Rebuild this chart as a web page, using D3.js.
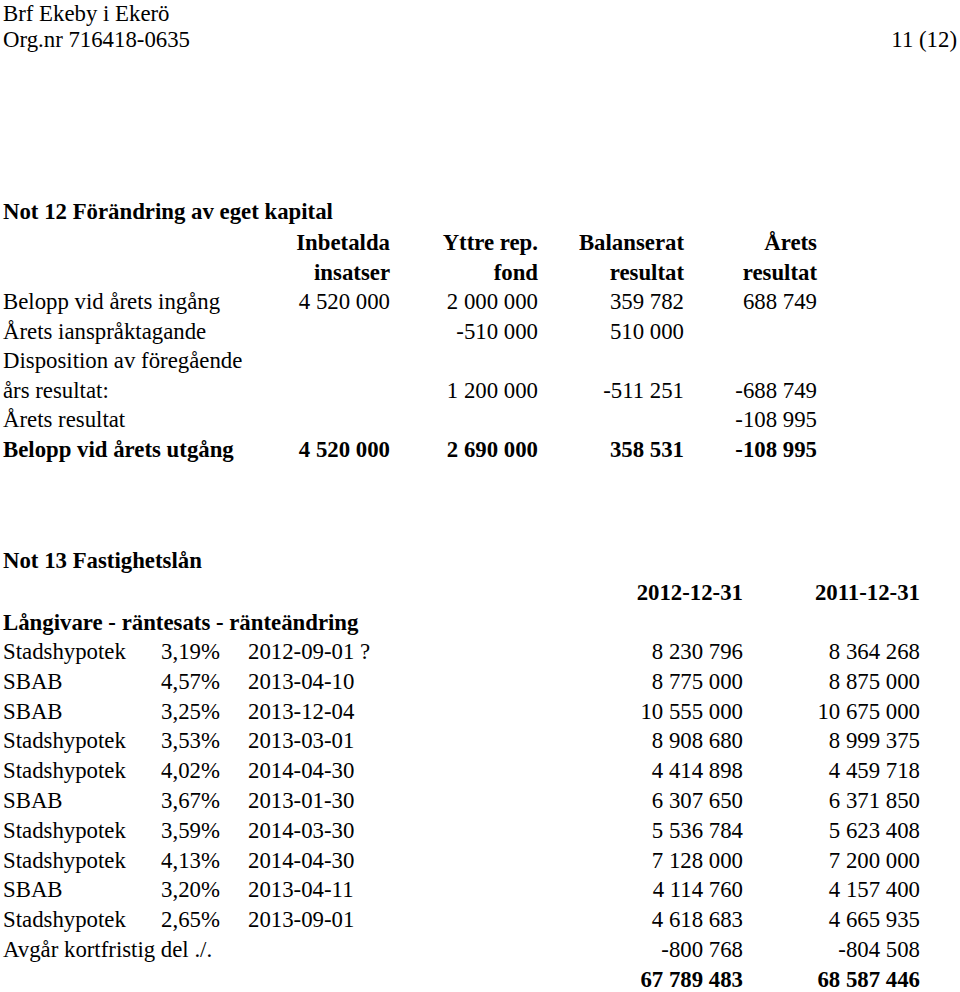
<!DOCTYPE html>
<html>
<head>
<meta charset="utf-8">
<script src="https://cdn.jsdelivr.net/npm/d3@7"></script>
<style>
    body { margin: 0; background: #fff; }
    svg text { font-family: "Liberation Serif", "Times New Roman", serif; fill: #000; }
</style>
</head>
<body>
<div id="page"></div>
<script>
/* Page header */
var orgName     = "Brf Ekeby i Ekerö";
var orgNumber   = "Org.nr 716418-0635";
var pageNumber  = "11 (12)";

/* Not 12 - Förändring av eget kapital */
var note12Title     = "Not 12 Förändring av eget kapital";
var equityHeadTop   = ["Inbetalda", "Yttre rep.", "Balanserat", "Årets"];
var equityHeadBot   = ["insatser", "fond", "resultat", "resultat"];
var equityLabels    = ["Belopp vid årets ingång", "Årets ianspråktagande", "Disposition av föregående", "års resultat:", "Årets resultat", "Belopp vid årets utgång"];
var inbetalda       = [4520000, null, null, null, null, 4520000];
var yttreRep        = [2000000, -510000, null, 1200000, null, 2690000];
var balanserat      = [359782, 510000, null, -511251, null, 358531];
var aretsResultat   = [688749, null, null, -688749, -108995, -108995];

/* Not 13 - Fastighetslån */
var note13Title     = "Not 13 Fastighetslån";
var loanHeading     = "Långivare - räntesats - ränteändring";
var loanPeriods     = ["2012-12-31", "2011-12-31"];
var lenders         = ["Stadshypotek", "SBAB", "SBAB", "Stadshypotek", "Stadshypotek", "SBAB", "Stadshypotek", "Stadshypotek", "SBAB", "Stadshypotek"];
var rates           = [3.19, 4.57, 3.25, 3.53, 4.02, 3.67, 3.59, 4.13, 3.20, 2.65];
var changeDates     = ["2012-09-01 ?", "2013-04-10", "2013-12-04", "2013-03-01", "2014-04-30", "2013-01-30", "2014-03-30", "2014-04-30", "2013-04-11", "2013-09-01"];
var loans2012       = [8230796, 8775000, 10555000, 8908680, 4414898, 6307650, 5536784, 7128000, 4114760, 4618683];
var loans2011       = [8364268, 8875000, 10675000, 8999375, 4459718, 6371850, 5623408, 7200000, 4157400, 4665935];
var shortTermLabel  = "Avgår kortfristig del ./.";
var shortTerm       = [-800768, -804508];

// Dimensions
var width = 960, height = 992, fontSize = 22.8;

// Swedish number format: space as thousands separator, comma decimals
var sv = d3.formatLocale({decimal: ",", thousands: " ", grouping: [3], currency: ["", " kr"], minus: "-"});
var fmtInt  = sv.format(",.0f");
var fmtRate = sv.format(".2f");

var svg = d3.select("#page").append("svg")
    .attr("width", width)
    .attr("height", height)
    .attr("viewBox", "0 0 " + width + " " + height);

svg.append("rect").attr("width", width).attr("height", height).attr("fill", "#fff");

function put(x, y, txt, opts) {
    opts = opts || {};
    return svg.append("text")
        .attr("x", x)
        .attr("y", y)
        .attr("font-size", fontSize)
        .attr("font-weight", opts.bold ? "bold" : "normal")
        .attr("text-anchor", opts.anchor || "start")
        .text(txt);
}

// Header
put(3, 20.5, orgName);
put(3, 47, orgNumber);
put(957, 47, pageNumber, {anchor: "end"});

/*
Not 12
*/
put(3, 219, note12Title, {bold: true});

var eqCols = ["inbetalda", "yttreRep", "balanserat", "aretsResultat"];
var eqX = d3.scaleOrdinal().domain(eqCols).range([390, 538, 684, 817]);
var eqY = d3.scalePoint().domain(d3.range(equityLabels.length)).range([309, 309 + 29.5 * 5]);

eqCols.forEach(function (c, i) {
    put(eqX(c), 250, equityHeadTop[i], {bold: true, anchor: "end"});
    put(eqX(c), 279.5, equityHeadBot[i], {bold: true, anchor: "end"});
});

var lastRow = equityLabels.length - 1;
equityLabels.forEach(function (lbl, i) {
    put(3, eqY(i), lbl, {bold: i === lastRow});
});

[inbetalda, yttreRep, balanserat, aretsResultat].forEach(function (series, ci) {
    series.forEach(function (v, i) {
        if (v === null) return;
        put(eqX(eqCols[ci]), eqY(i), fmtInt(v), {bold: i === lastRow, anchor: "end"});
    });
});

/*
Not 13
*/
put(3, 568, note13Title, {bold: true});

var periodX = d3.scaleOrdinal().domain(loanPeriods).range([743, 920]);
loanPeriods.forEach(function (p) {
    put(periodX(p), 600, p, {bold: true, anchor: "end"});
});
put(3, 630, loanHeading, {bold: true});

var loanRows = lenders.length + 2;
var loanY = d3.scalePoint().domain(d3.range(loanRows)).range([659, 659 + 29.8 * (loanRows - 1)]);

lenders.forEach(function (l, i) {
    put(3, loanY(i), l);
    put(220, loanY(i), fmtRate(rates[i]) + "%", {anchor: "end"});
    put(248, loanY(i), changeDates[i]);
    put(periodX(loanPeriods[0]), loanY(i), fmtInt(loans2012[i]), {anchor: "end"});
    put(periodX(loanPeriods[1]), loanY(i), fmtInt(loans2011[i]), {anchor: "end"});
});

var stRow = lenders.length;
put(3, loanY(stRow), shortTermLabel);
loanPeriods.forEach(function (p, j) {
    put(periodX(p), loanY(stRow), fmtInt(shortTerm[j]), {anchor: "end"});
});

// Totals
var totals = [d3.sum(loans2012) + shortTerm[0], d3.sum(loans2011) + shortTerm[1]];
loanPeriods.forEach(function (p, j) {
    put(periodX(p), loanY(stRow + 1), fmtInt(totals[j]), {bold: true, anchor: "end"});
});
</script>
</body>
</html>
